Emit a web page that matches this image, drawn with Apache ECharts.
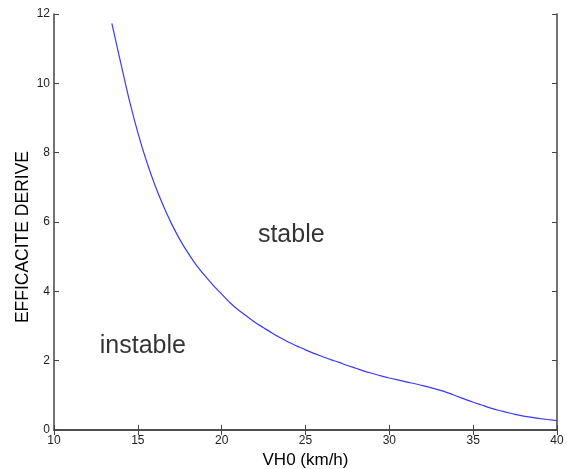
<!DOCTYPE html>
<html>
<head>
<meta charset="utf-8">
<script src="https://cdn.jsdelivr.net/npm/echarts@6/dist/echarts.min.js"></script>
<style>html,body{margin:0;padding:0;background:#fff}#c{width:567px;height:469px}</style>
</head>
<body>
<div id="c"></div>
<script>
var vh0 = [13.45,14.0,14.5,15.0,15.5,16.0,16.5,17.0,17.5,18.0,18.5,19.0,19.5,20.0,20.5,21.0,21.5,22.0,22.5,23.0,23.5,24.0,24.5,25.0,25.5,26.0,26.5,27.0,27.5,28.0,28.5,29.0,29.5,30.0,31.0,32.0,33.0,33.5,34.0,34.5,35.0,35.5,36.0,36.5,37.0,37.5,38.0,39.0,40.0];
var efficacite = [11.73,10.55,9.5,8.58,7.78,7.09,6.49,5.96,5.5,5.1,4.75,4.45,4.17,3.92,3.67,3.46,3.28,3.1,2.95,2.8,2.66,2.53,2.42,2.31,2.21,2.12,2.03,1.95,1.86,1.78,1.70,1.63,1.56,1.50,1.39,1.28,1.15,1.07,0.98,0.89,0.80,0.72,0.64,0.57,0.51,0.45,0.40,0.33,0.27];
var xTicks = [10,15,20,25,30,35,40];
var yTicks = [0,2,4,6,8,10,12];
var regionLabels = [{text:'stable', x:24.15, y:5.62}, {text:'instable', x:15.3, y:2.42}];
var xTitle = 'VH0 (km/h)';
var yTitle = 'EFFICACITE DERIVE';

var chart = echarts.init(document.getElementById('c'));
var axisLine = {show:true, lineStyle:{color:'#444', width:1.5}};
var tickIn = {show:true, inside:true, length:5, lineStyle:{color:'#444'}};
var pts = vh0.map(function(x,i){return [x, efficacite[i]];});
chart.setOption({
  animation:false,
  grid:{left:54, right:10, top:14, bottom:39, containLabel:false, outerBoundsMode:'none'},
  graphic:[{type:'text', left:14, top:151, rotation:Math.PI/2,
    style:{text:yTitle, fill:'#000', font:'17.5px "Liberation Sans", Arial'}}],
  xAxis:[
    {type:'value', min:xTicks[0], max:xTicks[xTicks.length-1], interval:5, position:'bottom',
     axisLine:axisLine, axisTick:tickIn, splitLine:{show:false},
     axisLabel:{color:'#222', fontFamily:'Liberation Sans, Arial', fontSize:12, margin:5},
     name:xTitle, nameLocation:'middle', nameGap:19,
     nameTextStyle:{color:'#000', fontFamily:'Liberation Sans, Arial', fontSize:17, verticalAlign:'top'}},
    {type:'value', min:xTicks[0], max:xTicks[xTicks.length-1], interval:5, position:'top',
     axisLine:axisLine, axisTick:tickIn, axisLabel:{show:false}, splitLine:{show:false}}
  ],
  yAxis:[
    {type:'value', min:yTicks[0], max:yTicks[yTicks.length-1], interval:2, position:'left',
     axisLine:axisLine, axisTick:tickIn, splitLine:{show:false},
     axisLabel:{color:'#222', fontFamily:'Liberation Sans, Arial', fontSize:12, margin:4}},
    {type:'value', min:yTicks[0], max:yTicks[yTicks.length-1], interval:2, position:'right',
     axisLine:axisLine, axisTick:tickIn, axisLabel:{show:false}, splitLine:{show:false}}
  ],
  series:[
    {type:'line', data:pts, smooth:0.3, showSymbol:false, symbol:'none',
     lineStyle:{color:'#3a3aff', width:1.2}},
    {type:'scatter', symbolSize:0, data:regionLabels.map(function(r){return {value:[r.x,r.y], name:r.text};}),
     label:{show:true, position:'inside', formatter:function(p){return p.name;},
       color:'#000', fontFamily:'Liberation Sans, Arial', fontSize:25}}
  ]
});
</script>
</body>
</html>
